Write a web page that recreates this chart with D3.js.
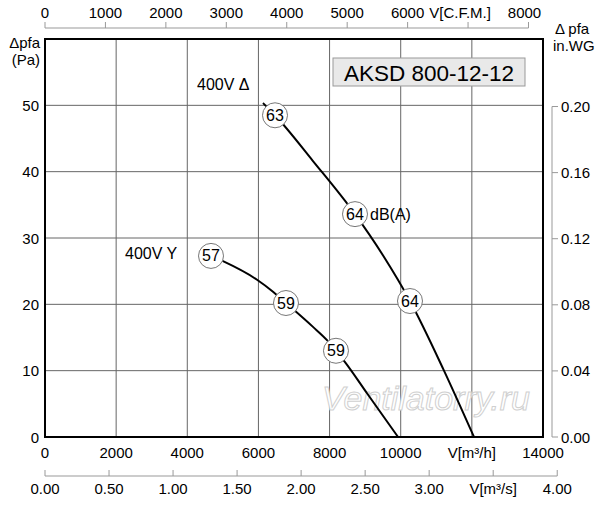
<!DOCTYPE html>
<html>
<head>
<meta charset="utf-8">
<script src="https://cdn.jsdelivr.net/npm/d3@7"></script>
<style>
  body { margin: 0; background: #fff; }
  svg { font-family: "Liberation Sans", Arial, sans-serif; }
</style>
</head>
<body>
<svg id="chart" width="600" height="505"></svg>
<script>
// axis ticks
const flowTicks = [0, 2000, 4000, 6000, 8000, 10000, 12000, 14000];
const cfmTicks = [0, 1000, 2000, 3000, 4000, 5000, 6000, 7000, 8000];
const m3sTicks = [0, 0.5, 1, 1.5, 2, 2.5, 3, 3.5, 4];
const paTicks = [0, 10, 20, 30, 40, 50];
const inwgTicks = [0, 0.04, 0.08, 0.12, 0.16, 0.2];

// 400V delta curve (m3/h, Pa)
const deltaFlow = [6128, 6466, 7534, 8715, 9500, 10261, 11200, 12060];
const deltaPa = [50.35, 48.5, 41.6, 33.6, 27.4, 20.5, 10.2, 0];
// 400V star curve
const starFlow = [4667, 5004, 5961, 6410, 6775, 7534, 7928, 8180, 8434, 9052, 9925];
const starPa = [27.3, 26.5, 23.7, 21.9, 20.2, 16.6, 14.6, 13.0, 11.3, 6.6, 0];

// noise markers dB(A)
const deltaNoiseFlow = [6466, 8715, 10261];
const deltaNoisePa = [48.5, 33.6, 20.5];
const deltaNoise = ["63", "64", "64"];
const starNoiseFlow = [4667, 6775, 8180];
const starNoisePa = [27.3, 20.2, 13.0];
const starNoise = ["57", "59", "59"];

const svg = d3.select("#chart");
const x = d3.scaleLinear().domain([0, 14000]).range([45, 543]);
const y = d3.scaleLinear().domain([0, 60]).range([437, 39]);
const xCfm = d3.scaleLinear().domain([0, 8000]).range([x(0), x(8000 * 1.699)]);
const xM3s = d3.scaleLinear().domain([0, 4]).range([x(0), x(4 * 3600)]);
const yWg = d3.scaleLinear().domain([0, 0.2]).range([y(0), y(0.2 * 249.1)]);

const tickColor = "#999";
const fs = 15;

// grid
svg.append("g").selectAll("line")
  .data(flowTicks.slice(1, -1))
  .enter().append("line")
  .attr("x1", d => x(d)).attr("x2", d => x(d))
  .attr("y1", y(60)).attr("y2", y(0))
  .style("stroke", "#666").style("stroke-width", 1);

svg.append("g").selectAll("line")
  .data(paTicks.slice(1))
  .enter().append("line")
  .attr("x1", x(0)).attr("x2", x(14000))
  .attr("y1", d => y(d)).attr("y2", d => y(d))
  .style("stroke", "#666").style("stroke-width", 1);

// title box
svg.append("rect")
  .attr("x", 333).attr("y", 58).attr("width", 192).attr("height", 28)
  .style("fill", "#e9e9e9").style("stroke", "#999");
svg.append("text")
  .attr("x", 429).attr("y", 80.5)
  .style("text-anchor", "middle").style("font-size", "22.5px")
  .text("AKSD 800-12-12");

// watermark
svg.append("text")
  .attr("x", 426).attr("y", 410)
  .style("text-anchor", "middle").style("font-size", "34px")
  .style("font-style", "italic")
  .style("fill", "#fff").style("stroke", "#d0d0d0").style("stroke-width", 1)
  .text("Ventilatorry.ru");

// frame
svg.append("rect")
  .attr("x", x(0)).attr("y", y(60))
  .attr("width", x(14000) - x(0)).attr("height", y(0) - y(60))
  .style("fill", "none").style("stroke", "#000").style("stroke-width", 2);

// curves
const line = d3.line()
  .x(d => x(d[0])).y(d => y(d[1]))
  .curve(d3.curveMonotoneX);

svg.append("path")
  .datum(deltaFlow.map((f, i) => [f, deltaPa[i]]))
  .attr("d", line)
  .style("fill", "none").style("stroke", "#000").style("stroke-width", 2);

svg.append("path")
  .datum(starFlow.map((f, i) => [f, starPa[i]]))
  .attr("d", line)
  .style("fill", "none").style("stroke", "#000").style("stroke-width", 2);

// noise circles
function noiseMarks(flows, pas, labels) {
  const g = svg.append("g").selectAll("g")
    .data(labels.map((l, i) => ({ label: l, f: flows[i], p: pas[i] })))
    .enter().append("g")
    .attr("transform", d => `translate(${x(d.f)},${y(d.p)})`);
  g.append("circle").attr("r", 12.5)
    .style("fill", "#fff").style("stroke", "#777").style("stroke-width", 1);
  g.append("text").attr("y", 5.5)
    .style("text-anchor", "middle").style("font-size", "16px")
    .text(d => d.label);
}
noiseMarks(deltaNoiseFlow, deltaNoisePa, deltaNoise);
noiseMarks(starNoiseFlow, starNoisePa, starNoise);

// curve labels
svg.append("text").attr("x", 197).attr("y", 90).style("font-size", "16px").text("400V \u0394");
svg.append("text").attr("x", 125).attr("y", 259).style("font-size", "16px").text("400V Y");
svg.append("text").attr("x", x(8715) + 15).attr("y", y(33.6) + 5.5).style("font-size", "16px").text("dB(A)");

// left axis labels (Pa)
svg.append("g").selectAll("text")
  .data(paTicks)
  .enter().append("text")
  .attr("x", 39).attr("y", d => y(d) + 5.5)
  .style("text-anchor", "end").style("font-size", fs + "px")
  .text(d => d);
svg.append("text").attr("x", 40).attr("y", 48).style("text-anchor", "end").style("font-size", fs + "px").text("\u0394pfa");
svg.append("text").attr("x", 40).attr("y", 65).style("text-anchor", "end").style("font-size", fs + "px").text("(Pa)");

// bottom axis labels (m3/h)
svg.append("g").selectAll("text")
  .data(flowTicks)
  .enter().append("text")
  .attr("x", d => x(d)).attr("y", 458)
  .style("text-anchor", "middle").style("font-size", fs + "px")
  .text(d => d === 12000 ? "V[m\u00b3/h]" : d);

// m3/s axis
const gS = svg.append("g");
gS.append("line")
  .attr("x1", xM3s(0)).attr("x2", xM3s(4)).attr("y1", 476).attr("y2", 476)
  .style("stroke", tickColor);
gS.selectAll(".tk").data(m3sTicks).enter().append("line")
  .attr("x1", d => xM3s(d)).attr("x2", d => xM3s(d))
  .attr("y1", 476).attr("y2", 470)
  .style("stroke", tickColor);
gS.selectAll("text").data(m3sTicks).enter().append("text")
  .attr("x", d => xM3s(d)).attr("y", 494)
  .style("text-anchor", "middle").style("font-size", fs + "px")
  .text(d => d === 3.5 ? "V[m\u00b3/s]" : d3.format(".2f")(d));

// top CFM axis
const gT = svg.append("g");
gT.append("line")
  .attr("x1", xCfm(0)).attr("x2", xCfm(8000)).attr("y1", 28).attr("y2", 28)
  .style("stroke", tickColor);
gT.selectAll(".tk").data(cfmTicks).enter().append("line")
  .attr("x1", d => xCfm(d)).attr("x2", d => xCfm(d))
  .attr("y1", 28).attr("y2", 22)
  .style("stroke", tickColor);
gT.selectAll("text").data(cfmTicks).enter().append("text")
  .attr("x", d => d === 7000 ? xCfm(d) - 8 : xCfm(d) - (d === 8000 ? 4 : 0)).attr("y", 18)
  .style("text-anchor", "middle").style("font-size", fs + "px")
  .text(d => d === 7000 ? "V[C.F.M.]" : d);

// right in.WG axis
const gR = svg.append("g");
gR.append("line")
  .attr("x1", 552).attr("x2", 552).attr("y1", yWg(0.2)).attr("y2", yWg(0))
  .style("stroke", tickColor);
gR.selectAll(".tk").data(inwgTicks).enter().append("line")
  .attr("x1", 552).attr("x2", 558)
  .attr("y1", d => yWg(d)).attr("y2", d => yWg(d))
  .style("stroke", tickColor);
gR.selectAll("text").data(inwgTicks).enter().append("text")
  .attr("x", 561).attr("y", d => yWg(d) + 5.5)
  .style("font-size", fs + "px")
  .text(d => d3.format(".2f")(d));
svg.append("text").attr("x", 555).attr("y", 34).style("font-size", fs + "px").text("\u0394 pfa");
svg.append("text").attr("x", 553).attr("y", 51).style("font-size", fs + "px").text("in.WG");
</script>
</body>
</html>
